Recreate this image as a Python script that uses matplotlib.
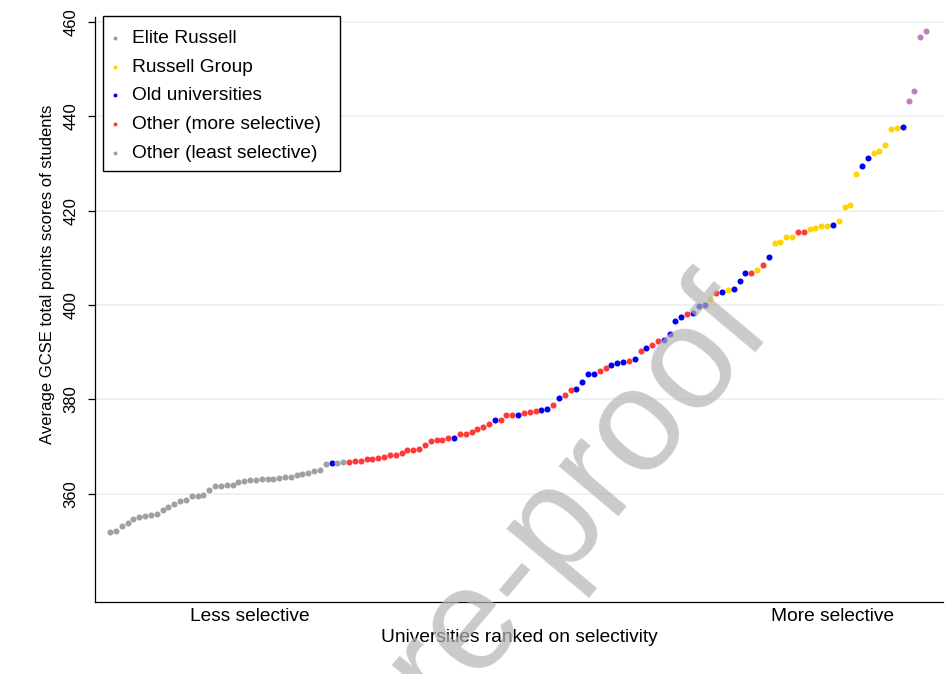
import numpy as np
import matplotlib

matplotlib.use("Agg")
import matplotlib.pyplot as plt
from matplotlib.patches import Rectangle

plt.rcParams["font.family"] = ["Liberation Sans", "DejaVu Sans"]

# average GCSE points score per university, ordered by selectivity
scores = [
    352.0, 352.2, 353.1, 353.9, 354.7, 355.2, 355.4, 355.6, 355.8, 356.6,
    357.3, 357.9, 358.5, 358.7, 359.5, 359.6, 359.8, 360.8, 361.6, 361.7,
    361.8, 361.8, 362.6, 362.8, 362.9, 363.0, 363.1, 363.2, 363.2, 363.3,
    363.5, 363.6, 363.9, 364.2, 364.5, 364.9, 365.1, 366.3, 366.5, 366.5,
    366.8, 366.8, 366.9, 367.0, 367.4, 367.4, 367.6, 367.9, 368.3, 368.3,
    368.7, 369.3, 369.3, 369.5, 370.3, 371.3, 371.4, 371.4, 371.9, 371.9,
    372.6, 372.6, 373.1, 373.8, 374.1, 374.8, 375.6, 375.7, 376.6, 376.6,
    376.7, 377.2, 377.3, 377.6, 377.8, 377.9, 378.8, 380.3, 381.0, 381.9,
    382.3, 383.6, 385.3, 385.3, 386.0, 386.6, 387.2, 387.7, 388.0, 388.2,
    388.5, 390.2, 390.9, 391.6, 392.3, 392.5, 393.9, 396.6, 397.5, 398.1,
    398.4, 399.7, 399.9, 401.3, 402.5, 402.8, 403.1, 403.3, 405.1, 406.7,
    406.8, 407.4, 408.5, 410.1, 413.2, 413.3, 414.3, 414.4, 415.4, 415.5,
    416.1, 416.4, 416.7, 416.8, 417.0, 417.8, 420.7, 421.2, 427.8, 429.5,
    431.2, 432.1, 432.7, 433.9, 437.3, 437.5, 437.6, 443.2, 445.4, 456.8,
    458.1,
]

# E = Elite Russell, R = Russell Group, O = Old universities,
# M = Other (more selective), L = Other (least selective)
groups = list(
    "LLLLLLLLLL" "LLLLLLLLLL" "LLLLLLLLLL" "LLLLLLLLOL"
    "LMMMMMMMMM" "MMMMMMMMMO" "MMMMMMOMMM" "OMMMOOMOMM"
    "OOOOMMOOOM" "OMOMMOOOOM" "OOORMOROOO" "MRMORRRRMM"
    "RRRRORRRRO" "ORRRRROEEEE"
)

group_codes = ["E", "R", "O", "M", "L"]
group_labels = [
    "Elite Russell",
    "Russell Group",
    "Old universities",
    "Other (more selective)",
    "Other (least selective)",
]
group_colors = ["#c080c0", "#ffd400", "#0000f0", "#ff3838", "#a0a0a0"]

xtick_pos = [25, 125]
xtick_labels = ["Less selective", "More selective"]
ytick_vals = [360, 380, 400, 420, 440, 460]

scores = np.array(scores)
groups = np.array(groups)
ranks = np.arange(1, len(scores) + 1)

W, H = 952, 674
fig = plt.figure(figsize=(W / 100, H / 100), dpi=100)
ax = fig.add_axes([95 / W, 1 - 602 / H, 848 / W, 585 / H])

ax.grid(axis="y", color="#eaf2f3", lw=1.3, zorder=0)
ax.set_axisbelow(True)

for code, label, color in zip(group_codes, group_labels, group_colors):
    sel = groups == code
    ax.scatter(ranks[sel], scores[sel], s=19, c=color, lw=0, label=label, zorder=3)

ax.set_xlim(-1.6, 143.9)
ax.set_ylim(337.1, 461.0)

ax.set_yticks(ytick_vals)
ax.set_yticklabels([str(v) for v in ytick_vals], rotation=90, va="center")
ax.set_xticks(xtick_pos)
ax.set_xticklabels(xtick_labels)
ax.tick_params(axis="y", length=5, width=0.9, pad=7, labelsize=12)
ax.tick_params(axis="x", length=0, pad=4, labelsize=13.8)

for side in ("top", "right"):
    ax.spines[side].set_visible(False)
for side in ("left", "bottom"):
    ax.spines[side].set_linewidth(0.9)

ax.set_ylabel("Average GCSE total points scores of students", fontsize=12)
ax.yaxis.set_label_coords(-0.047, (602 - 274) / 585)
ax.set_xlabel("Universities ranked on selectivity", fontsize=13.8, labelpad=3.5)

# legend box drawn separately so its padding matches the original
box = Rectangle(
    (103 / W, 1 - 170.7 / H), 237 / W, 155 / H,
    transform=fig.transFigure, facecolor="white", edgecolor="black",
    lw=1.0, zorder=4,
)
ax.add_patch(box)
box.set_clip_on(False)

leg = ax.legend(
    loc="upper left",
    bbox_to_anchor=(107.2 / W, 1 - 29.2 / H),
    bbox_transform=fig.transFigure,
    borderaxespad=0,
    borderpad=0,
    fontsize=13.8,
    markerscale=0.65,
    handletextpad=0.47,
    handlelength=0.8,
    labelspacing=0.6,
    frameon=False,
)
leg.set_zorder(5)

# journal watermark
fig.text(
    545 / W, 1 - 530 / H, "Pre-proof",
    fontsize=105, color="#b4b4b4", alpha=0.7,
    rotation=50, ha="center", va="center", zorder=10,
)

fig.savefig("out.png", dpi=100)
